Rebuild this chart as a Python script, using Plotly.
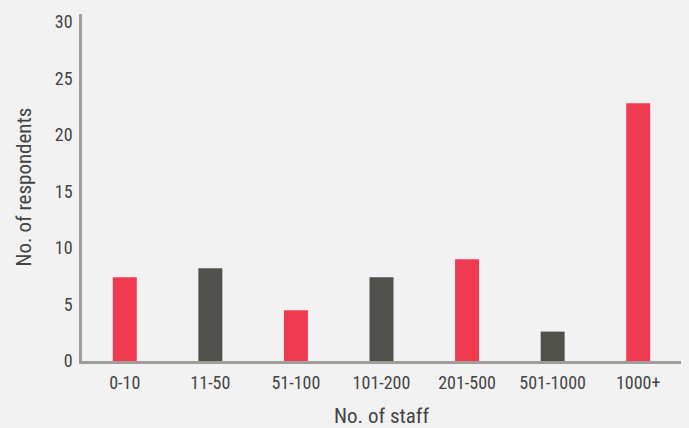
import plotly.graph_objects as go

categories = ["0-10", "11-50", "51-100", "101-200", "201-500", "501-1000", "1000+"]
respondents = [7.4, 8.2, 4.5, 7.4, 9.0, 2.6, 22.8]
bar_colors = ["#F03A52", "#51514C", "#F03A52", "#51514C", "#F03A52", "#51514C", "#F03A52"]
y_ticks = [0, 5, 10, 15, 20, 25, 30]

FONT = "Liberation Sans Narrow, Roboto Condensed, Arial Narrow, Roboto, sans-serif"

fig = go.Figure(go.Bar(x=categories, y=respondents, marker=dict(color=bar_colors, line=dict(width=0))))

fig.update_layout(
    width=689, height=428,
    margin=dict(l=82, r=8, t=14, b=67),
    paper_bgcolor="#F2F2F2", plot_bgcolor="#F2F2F2",
    bargap=0.72,
    showlegend=False,
    font=dict(family=FONT, size=18, color="#444444"),
)
fig.update_xaxes(
    showline=True, linecolor="#A09C98", linewidth=2.5,
    showgrid=False, ticks="", ticklabelstandoff=4, automargin=False,
)
fig.update_yaxes(
    range=[0, 30.7], tickvals=y_ticks,
    showline=True, linecolor="#A09C98", linewidth=2.5,
    showgrid=False, zeroline=False, ticks="", ticklabelstandoff=3, automargin=False,
)
fig.add_annotation(text="No. of staff", xref="paper", yref="paper", x=0.5, y=0,
                   xanchor="center", yanchor="middle",
                   yshift=-55, showarrow=False, font=dict(size=21))
fig.add_annotation(text="No. of respondents", xref="paper", yref="paper", x=0, y=0.5,
                   xanchor="center", yanchor="middle",
                   xshift=-59, textangle=-90, showarrow=False, font=dict(size=21))

fig.write_html(
    "out.html",
    config={"displayModeBar": False},
    post_script="document.body.style.margin='0';document.body.style.background='#F2F2F2';",
)
